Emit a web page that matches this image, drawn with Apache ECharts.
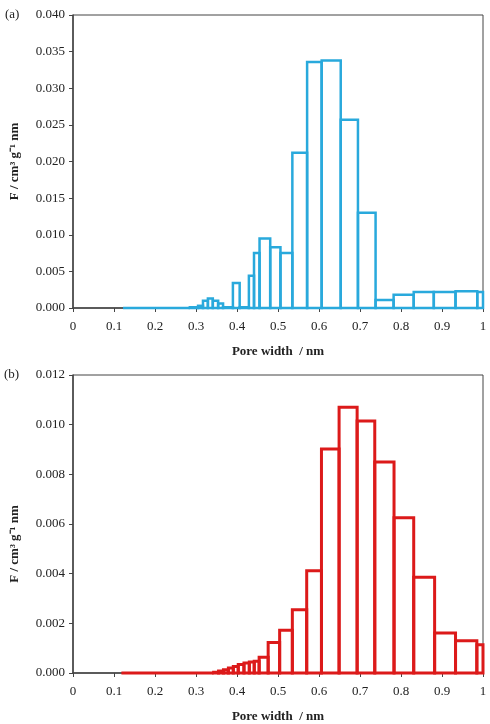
<!DOCTYPE html>
<html>
<head>
<meta charset="utf-8">
<script src="https://cdn.jsdelivr.net/npm/echarts@6/dist/echarts.min.js"></script>
<style>
  html, body { margin: 0; padding: 0; background: #fff; }
  #main { width: 490px; height: 724px; }
</style>
</head>
<body>
<div id="main"></div>
<script>
// bin edges (pore width, nm) and heights
var edgesA = [0.122, 0.285, 0.305, 0.317, 0.329, 0.341, 0.354, 0.366, 0.390, 0.4065, 0.429,
  0.4415, 0.455, 0.481, 0.506, 0.535, 0.571, 0.6065, 0.653, 0.695, 0.738, 0.782, 0.831,
  0.880, 0.933, 0.986, 1.0];
var valuesA = [0, 0.0001, 0.0003, 0.0010, 0.0013, 0.0010, 0.0006, 0.0001, 0.0034, 0.0001,
  0.0044, 0.0075, 0.0095, 0.0083, 0.0075, 0.0212, 0.0336, 0.0338, 0.0257, 0.0130,
  0.0011, 0.0018, 0.0022, 0.0022, 0.0023, 0.0022];

var edgesB = [0.118, 0.343, 0.355, 0.367, 0.379, 0.391, 0.403, 0.417, 0.430, 0.442, 0.454,
  0.476, 0.504, 0.535, 0.570, 0.606, 0.649, 0.693, 0.736, 0.783, 0.831, 0.882, 0.933,
  0.985, 1.0];
var valuesB = [0, 0.00003, 0.00008, 0.00013, 0.0002, 0.00026, 0.00034, 0.0004, 0.00044,
  0.00047, 0.00063, 0.00123, 0.00172, 0.00255, 0.00412, 0.00902, 0.0107, 0.01015, 0.0085,
  0.00625, 0.00386, 0.00161, 0.0013, 0.00114];

var xTicks = [0, 0.1, 0.2, 0.3, 0.4, 0.5, 0.6, 0.7, 0.8, 0.9, 1];
var yMaxA = 0.040, yStepA = 0.005;
var yMaxB = 0.012, yStepB = 0.002;

function toBins(edges, values) {
  var out = [];
  for (var i = 0; i < values.length; i++) out.push([edges[i], edges[i + 1], values[i]]);
  return out;
}

function makeRender(color, lw) {
  return function (params, api) {
    var p0 = api.coord([api.value(0), 0]);
    var p1 = api.coord([api.value(1), api.value(2)]);
    return {
      type: 'rect',
      shape: { x: p0[0], y: p1[1], width: p1[0] - p0[0], height: p0[1] - p1[1] },
      style: { fill: 'rgba(255,255,255,0)', stroke: color, lineWidth: lw }
    };
  };
}

var serif = 'Liberation Serif, Times New Roman, serif';

function xAxisOf(idx) {
  return {
    type: 'value', gridIndex: idx, min: 0, max: 1, interval: 0.1,
    name: 'Pore width  / nm', nameLocation: 'middle', nameGap: 37,
    nameTextStyle: { fontFamily: serif, fontWeight: 'bold', fontSize: 13, color: '#222' },
    axisLine: { lineStyle: { color: '#444', width: 1.5 } },
    axisTick: { length: 4, lineStyle: { color: '#444' } },
    axisLabel: {
      fontFamily: serif, fontSize: 13, color: '#222', margin: 12,
      formatter: function (v) { return xTicks.indexOf(Math.round(v * 10) / 10) >= 0 ? String(Math.round(v * 10) / 10) : ''; }
    },
    splitLine: { show: false }
  };
}

function yAxisOf(idx, max, step, pad) {
  return {
    type: 'value', gridIndex: idx, min: 0, max: max, interval: step,
    name: 'F / cm\u00b3 g\u207b\u00b9 nm', nameLocation: 'middle', nameGap: 52, nameRotate: 90,
    nameTextStyle: { fontFamily: serif, fontWeight: 'bold', fontSize: 13, color: '#222', padding: pad },
    axisLine: { show: true, lineStyle: { color: '#444', width: 1.5 } },
    axisTick: { show: true, length: 4, lineStyle: { color: '#444' } },
    axisLabel: {
      fontFamily: serif, fontSize: 13, color: '#222', margin: 8,
      formatter: function (v) { return v.toFixed(3); }
    },
    splitLine: { show: false }
  };
}

var chart = echarts.init(document.getElementById('main'));
chart.setOption({
  backgroundColor: '#fff',
  animation: false,
  graphic: [
    { type: 'text', left: 5, top: 8, style: { text: '(a)', font: '13px ' + serif, fill: '#222' } },
    { type: 'text', left: 4, top: 368, style: { text: '(b)', font: '13px ' + serif, fill: '#222' } }
  ],
  grid: [
    { left: 73, right: 7, top: 15, height: 293, show: true, borderColor: '#444', borderWidth: 1 },
    { left: 72, right: 7, top: 375, height: 298, show: true, borderColor: '#444', borderWidth: 1 }
  ],
  xAxis: [xAxisOf(0), xAxisOf(1)],
  yAxis: [yAxisOf(0, yMaxA, yStepA, 0), yAxisOf(1, yMaxB, yStepB, [0, 40, 0, 0])],
  series: [
    {
      type: 'custom', xAxisIndex: 0, yAxisIndex: 0,
      renderItem: makeRender('#29a9dc', 2.5),
      encode: { x: [0, 1], y: 2 },
      data: toBins(edgesA, valuesA)
    },
    {
      type: 'custom', xAxisIndex: 1, yAxisIndex: 1,
      renderItem: makeRender('#dc1a1a', 3),
      encode: { x: [0, 1], y: 2 },
      data: toBins(edgesB, valuesB)
    }
  ]
});
</script>
</body>
</html>
